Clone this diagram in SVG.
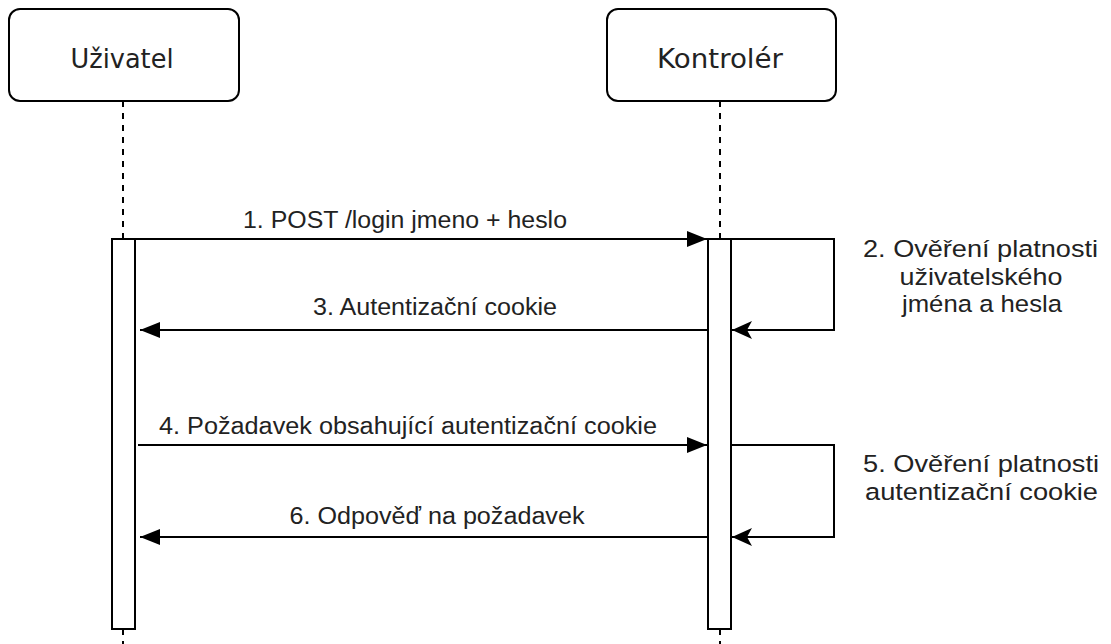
<svg xmlns="http://www.w3.org/2000/svg" width="1111" height="644" viewBox="0 0 1111 644">
<style>
.box{fill:#fff;stroke:#000;stroke-width:2}
.act{fill:#fff;stroke:#000;stroke-width:2}
.life{stroke:#000;stroke-width:2;stroke-dasharray:6 6;fill:none}
.msg{stroke:#000;stroke-width:2;fill:none}
.hdr{font-family:"DejaVu Sans",sans-serif;font-size:26px;fill:#222;text-anchor:middle}
.lbl{font-family:"Liberation Sans",Arial,sans-serif;font-size:23px;fill:#222;text-anchor:middle}
.side{font-family:"Liberation Sans",Arial,sans-serif;font-size:24.5px;fill:#222;text-anchor:middle}
</style>
<defs>
<marker id="block" viewBox="0 0 20 16" refX="20" refY="8" markerWidth="20" markerHeight="16" markerUnits="userSpaceOnUse" orient="auto">
<path d="M0,0 L20,8 L0,16 Z" fill="#000"/>
</marker>
<marker id="classic" viewBox="0 0 20 18" refX="20" refY="9" markerWidth="20" markerHeight="18" markerUnits="userSpaceOnUse" orient="auto">
<path d="M0,0 L20,9 L0,18 L5,9 Z" fill="#000"/>
</marker>
</defs>
<g id="lifelines">
<line class="life" x1="123" y1="101" x2="123" y2="239"/>
<line class="life" x1="123" y1="629" x2="123" y2="644"/>
<line class="life" x1="720" y1="101" x2="720" y2="239"/>
<line class="life" x1="720" y1="629" x2="720" y2="644"/>
</g>
<g id="user">
<rect class="box" x="9" y="9" width="230" height="92" rx="11"/>
<text class="hdr" x="122" y="68" textLength="103" lengthAdjust="spacingAndGlyphs">Uživatel</text>
</g>
<g id="controller">
<rect class="box" x="607" y="9" width="229" height="92" rx="11"/>
<text class="hdr" x="720" y="68" textLength="126" lengthAdjust="spacingAndGlyphs">Kontrolér</text>
</g>
<g id="user-activation">
<rect class="act" x="112" y="239" width="23" height="390"/>
</g>
<g id="controller-activation">
<rect class="act" x="708" y="239" width="23" height="390"/>
</g>
<g id="connectors">
<line class="msg" x1="135" y1="239" x2="707" y2="239" marker-end="url(#block)"/>
<path class="msg" d="M731,239 H834 V330 H732" marker-end="url(#classic)"/>
<line class="msg" x1="708" y1="330" x2="140" y2="330" marker-end="url(#block)"/>
<line class="msg" x1="138" y1="445" x2="707" y2="445" marker-end="url(#block)"/>
<path class="msg" d="M731,445 H834 V537 H732" marker-end="url(#classic)"/>
<line class="msg" x1="708" y1="537" x2="140" y2="537" marker-end="url(#block)"/>
</g>
<g id="labels">
<text class="lbl" x="405" y="228" textLength="324" lengthAdjust="spacingAndGlyphs">1. POST /login jmeno + heslo</text>
<text class="lbl" x="435" y="315" textLength="244" lengthAdjust="spacingAndGlyphs">3. Autentizační cookie</text>
<text class="lbl" x="408" y="434" textLength="498" lengthAdjust="spacingAndGlyphs">4. Požadavek obsahující autentizační cookie</text>
<text class="lbl" x="437" y="524" textLength="295" lengthAdjust="spacingAndGlyphs">6. Odpověď na požadavek</text>
<text class="side" x="980.5" y="257" textLength="235" lengthAdjust="spacingAndGlyphs">2. Ověření platnosti</text>
<text class="side" x="981" y="285" textLength="163" lengthAdjust="spacingAndGlyphs">uživatelského</text>
<text class="side" x="982" y="312" textLength="160" lengthAdjust="spacingAndGlyphs">jména a hesla</text>
<text class="side" x="981" y="472" textLength="236" lengthAdjust="spacingAndGlyphs">5. Ověření platnosti</text>
<text class="side" x="981.5" y="500" textLength="233" lengthAdjust="spacingAndGlyphs">autentizační cookie</text>
</g>
</svg>
